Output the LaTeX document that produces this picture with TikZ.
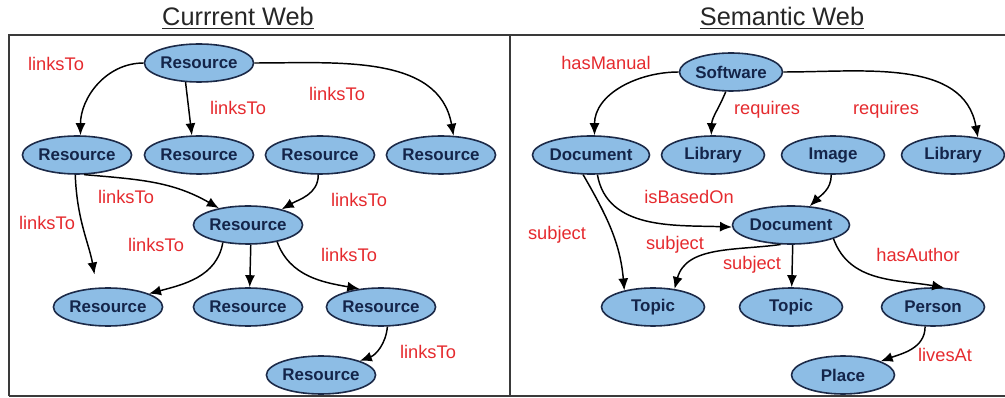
\documentclass[tikz,border=0pt]{standalone}
\usepackage{fontspec}
\setmainfont{Liberation Sans}
\usetikzlibrary{shapes.geometric,arrows.meta}

\definecolor{nodefill}{HTML}{8DBDE5}
\definecolor{nodeline}{HTML}{1C2A48}
\definecolor{nodetext}{HTML}{14254A}
\definecolor{labelred}{HTML}{E52A2E}
\definecolor{framegray}{HTML}{3A3A3A}

\tikzset{
  res/.style={ellipse, draw=nodeline, line width=1.2pt, fill=nodefill,
    minimum width=77.25pt, minimum height=28.5pt, inner sep=0pt,
    text=nodetext, font=\fontsize{12.7}{14}\selectfont\bfseries},
  rel/.style={text=labelred, font=\fontsize{13.7}{15}\selectfont, inner sep=0pt},
  heading/.style={font=\fontsize{19}{21}\selectfont, text=black!85, inner sep=0pt},
  link/.style={draw=black, line width=1.1pt, -{Latex[length=9pt,width=7.5pt]}},
  frame/.style={draw=framegray, line width=1.5pt}
}

\begin{document}
\begin{tikzpicture}[x=0.75pt,y=-0.75pt]
\useasboundingbox (0,0) rectangle (1005,398);

% panel frame
\draw[frame] (9,396) -- (9,35) -- (1006,35);
\draw[frame] (9,396) -- (1006,396);
\draw[frame] (510,35) -- (510,396);

% headings
\node[heading] (hcur) at (238,18) {\underline{Currrent Web}};
\node[heading] (hsem) at (782,18) {\underline{Semantic Web}};

% ---------- current web ----------
\node[res] (t)  at (199,63)  {Resource};
\node[res] (r1) at (77,155)  {Resource};
\node[res] (r2) at (199,155) {Resource};
\node[res] (r3) at (320,155) {Resource};
\node[res] (r4) at (441,155) {Resource};
\node[res] (m)  at (248,225) {Resource};
\node[res] (b1) at (108,307) {Resource};
\node[res] (b2) at (248,307) {Resource};
\node[res] (b3) at (381,307) {Resource};
\node[res] (bb) at (321,375) {Resource};

\draw[link] (t.180) to[out=180,in=90] (r1.80);
\draw[link] (t.235) -- (r2.110);
\draw[link] (t.0) to[out=0,in=100] (r4.57);
\draw[link,shorten >=10pt] (r1.265) to[out=-88,in=100] (b1.120);
\draw[link] (r1.-70) to[out=-5,in=150] (m.150);
\draw[link] (r3.-95) to[out=-90,in=30] (m.25);
\draw[link] (m.215) to[out=-100,in=15] (b1.18);
\draw[link] (m.-82) -- (b2.85);
\draw[link] (m.-30) to[out=-70,in=170] (b3.140);
\draw[link] (b3.-72) to[out=-95,in=20] (bb.20);

\node[rel] (l1) at (56,64)   {linksTo};
\node[rel] (l2) at (238,108) {linksTo};
\node[rel] (l3) at (337,94)  {linksTo};
\node[rel] (l4) at (126,197) {linksTo};
\node[rel] (l5) at (359,200) {linksTo};
\node[rel] (l6) at (47,223)  {linksTo};
\node[rel] (l7) at (156,245) {linksTo};
\node[rel] (l8) at (349,255) {linksTo};
\node[rel] (l9) at (428,352) {linksTo};

% ---------- semantic web ----------
\node[res] (sw)  at (731,72)  {Software};
\node[res] (d1)  at (591,155) {Document};
\node[res] (lb1) at (713,155) {Library};
\node[res] (im)  at (833,155) {Image};
\node[res] (lb2) at (953,155) {Library};
\node[res] (dm)  at (791,225) {Document};
\node[res] (tp1) at (653,307) {Topic};
\node[res] (tp2) at (791,307) {Topic};
\node[res] (pe)  at (933,307) {Person};
\node[res] (pl)  at (843,375) {Place};

\draw[link] (sw.180) to[out=180,in=90] (d1.80);
\draw[link] (sw.-105) to[out=-112,in=88] (lb1.95);
\draw[link] (sw.0) to[out=0,in=100] (lb2.35);
\draw[link] (d1.-112) to[out=-60,in=95] (tp1.150);
\draw[link] (d1.-72) to[out=-80,in=178] (dm.182);
\draw[link] (im.-95) to[out=-90,in=45] (dm.45);
\draw[link] (dm.-118) to[out=188,in=75] (tp1.40);
\draw[link] (dm.-85) -- (tp2.88);
\draw[link] (dm.-18) to[out=-70,in=170] (pe.60);
\draw[link] (pe.-112) to[out=-90,in=20] (pl.20);

\node[rel] (s1) at (606,63)  {hasManual};
\node[rel] (s2) at (767,110) {requires};
\node[rel] (s3) at (886,110) {requires};
\node[rel] (s4) at (689,197) {isBasedOn};
\node[rel] (s5) at (557,235) {subject};
\node[rel] (s6) at (675,245) {subject};
\node[rel] (s7) at (752,265) {subject};
\node[rel] (s8) at (918,255) {hasAuthor};
\node[rel] (s9) at (945,355) {livesAt};
\end{tikzpicture}
\end{document}
